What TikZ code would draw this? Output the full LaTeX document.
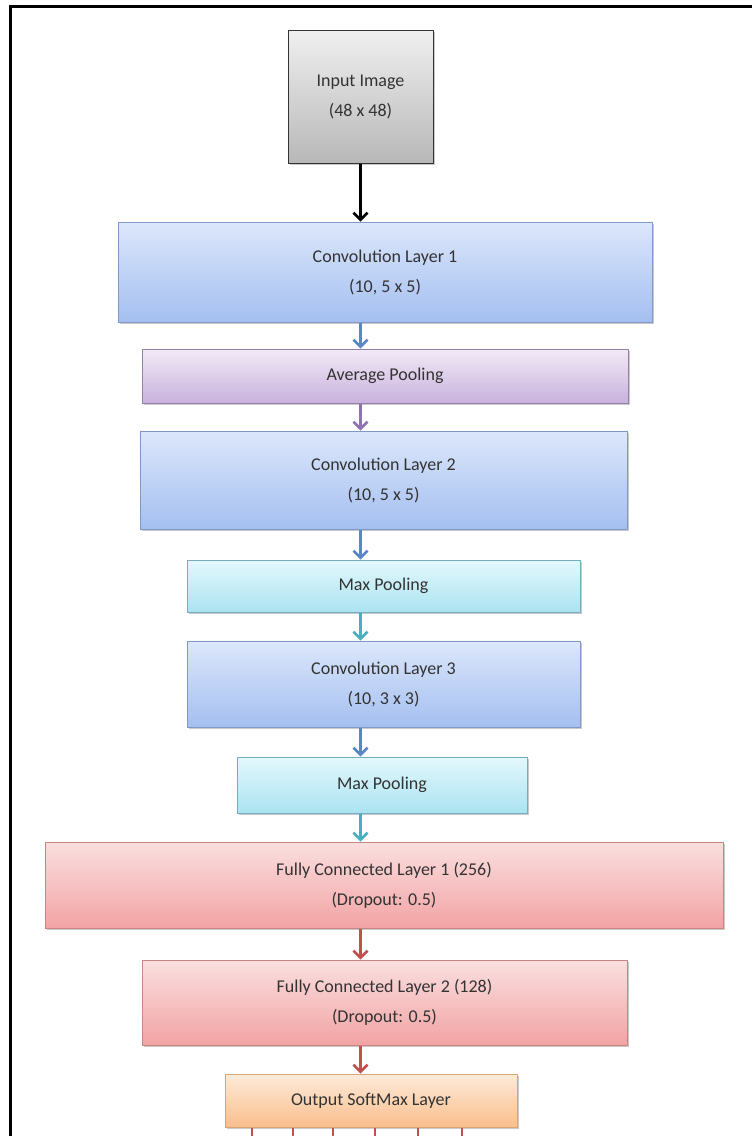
\documentclass[tikz,border=0pt]{standalone}
\usepackage{fontspec}
\setmainfont{Carlito}
\usetikzlibrary{arrows.meta, positioning, shadows}
\definecolor{conv_top}{HTML}{DCE7FB}
\definecolor{conv_bot}{HTML}{A4BFF0}
\definecolor{conv_line}{HTML}{7F98C6}
\definecolor{avg_top}{HTML}{F2E9F6}
\definecolor{avg_bot}{HTML}{C8B2DD}
\definecolor{avg_line}{HTML}{9482AA}
\definecolor{max_top}{HTML}{E3F8FC}
\definecolor{max_bot}{HTML}{ABE3F1}
\definecolor{max_line}{HTML}{74AEBE}
\definecolor{fc_top}{HTML}{FADFDF}
\definecolor{fc_bot}{HTML}{F2A3A4}
\definecolor{fc_line}{HTML}{C98584}
\definecolor{out_top}{HTML}{FEEBDA}
\definecolor{out_bot}{HTML}{F9BE8C}
\definecolor{out_line}{HTML}{D9A577}
\definecolor{arr_blue}{HTML}{5A86C5}
\definecolor{arr_purple}{HTML}{8C72B3}
\definecolor{arr_teal}{HTML}{4AADC0}
\definecolor{arr_red}{HTML}{C0504D}
\tikzset{
  block_font/.style = {font=\fontsize{18}{30}\selectfont},
  block_shadow/.style = {drop shadow={shadow xshift=1.5pt, shadow yshift=-2pt, opacity=0.35, fill=black!60}},
  block/.style = {block_font, align=center, text=black!80, line width=1pt, inner sep=0, block_shadow}
}
\tikzset{
  input_block/.style = {block, draw=black!80, top color=black!6, bottom color=black!28},
  conv_block/.style = {block, draw=conv_line, top color=conv_top, bottom color=conv_bot},
  avg_block/.style = {block, draw=avg_line, top color=avg_top, bottom color=avg_bot},
  max_block/.style = {block, draw=max_line, top color=max_top, bottom color=max_bot},
  fc_block/.style = {block, draw=fc_line, top color=fc_top, bottom color=fc_bot},
  out_block/.style = {block, draw=out_line, top color=out_top, bottom color=out_bot},
  flow/.style = {line width=2.5pt, -{Straight Barb[length=7pt, width=14pt, line width=2.5pt]}}
}

\begin{document}
\begin{tikzpicture}[x=1pt, y=-1pt]
    \useasboundingbox (0,0) rectangle (752,1136);

    % frame
    \draw[line width=3pt] (752,6.5) -- (10.5,6.5) -- (10.5,1136);

    % Layers
    \node[input_block, minimum width=145, minimum height=133] at (360.5,96.5) (inp) {
        Input Image \\ (48 x 48)};
    \node[conv_block, minimum width=534, minimum height=100] at (385,272) (conv1) {
        Convolution Layer 1 \\ (10, 5 x 5)};
    \node[avg_block, minimum width=486, minimum height=54] at (385,376) (avg) {
        Average Pooling};
    \node[conv_block, minimum width=487, minimum height=98] at (383.5,480) (conv2) {
        Convolution Layer 2 \\ (10, 5 x 5)};
    \node[max_block, minimum width=393, minimum height=52] at (383.5,586) (max1) {
        Max Pooling};
    \node[conv_block, minimum width=393, minimum height=86] at (383.5,684) (conv3) {
        Convolution Layer 3 \\ (10, 3 x 3)};
    \node[max_block, minimum width=290, minimum height=56] at (382,785) (max2) {
        Max Pooling};
    \node[fc_block, minimum width=678, minimum height=86] at (384,885) (fc1) {
        Fully Connected Layer 1 (256) \\ (Dropout: 0.5)};
    \node[fc_block, minimum width=485, minimum height=85] at (384.5,1002.5) (fc2) {
        Fully Connected Layer 2 (128) \\ (Dropout: 0.5)};
    \node[out_block, minimum width=292, minimum height=53] at (371,1100.5) (out) {
        Output SoftMax Layer};

    % Arrows
    \draw[flow, black] (inp.south) -- (conv1.north -| inp.south);
    \draw[flow, arr_blue] (conv1.south -| inp.south) -- (avg.north -| inp.south);
    \draw[flow, arr_purple] (avg.south -| inp.south) -- (conv2.north -| inp.south);
    \draw[flow, arr_blue] (conv2.south -| inp.south) -- (max1.north -| inp.south);
    \draw[flow, arr_teal] (max1.south -| inp.south) -- (conv3.north -| inp.south);
    \draw[flow, arr_blue] (conv3.south -| inp.south) -- (max2.north -| inp.south);
    \draw[flow, arr_teal] (max2.south -| inp.south) -- (fc1.north -| inp.south);
    \draw[flow, arr_red] (fc1.south -| inp.south) -- (fc2.north -| inp.south);
    \draw[flow, arr_red] (fc2.south -| inp.south) -- (out.north -| inp.south);

    % outputs
    \foreach \x in {252,293,333,375,418,462}
        \draw[arr_red, line width=2pt] (\x,0 |- out.south) -- ++(0,12);
\end{tikzpicture}
\end{document}
